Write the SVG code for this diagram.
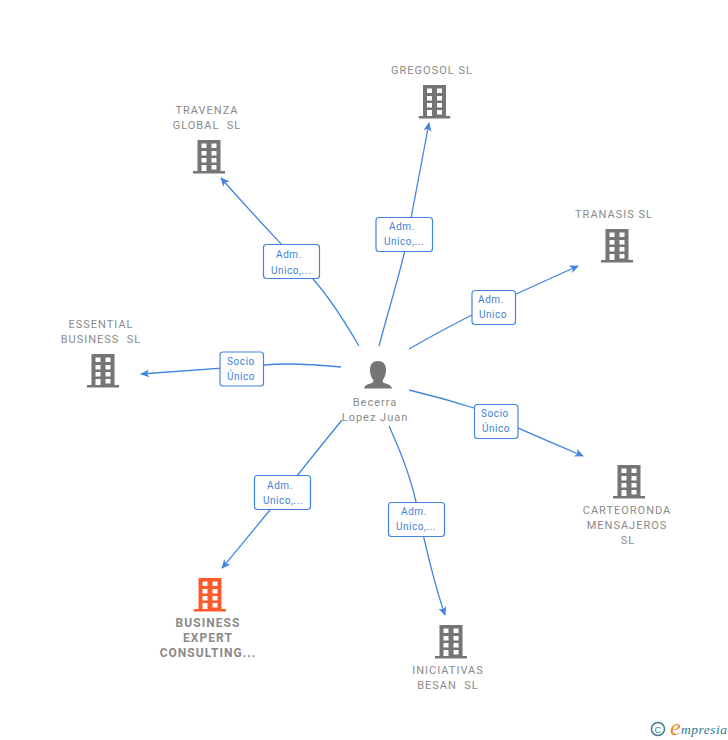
<svg xmlns="http://www.w3.org/2000/svg" width="728" height="740" viewBox="0 0 728 740">
<style>
.e{fill:none;stroke:#4285e0;stroke-width:1.3;marker-end:url(#a)}
.b{fill:#fff;stroke:#4285e0;stroke-width:1.2}
.l{font:10px Roboto,"Liberation Sans",sans-serif;fill:#3f7fd8;text-anchor:middle;letter-spacing:.55px}
.n{font:11px Roboto,"Liberation Sans",sans-serif;fill:#8a8a8a;text-anchor:middle;letter-spacing:1px;white-space:pre}
.f{font-weight:700;font-size:12px;letter-spacing:1.05px}
.g{fill:#757575}
</style>
<defs>
<marker id="a" viewBox="0 0 10 10" refX="9" refY="5" markerWidth="9" markerHeight="9" markerUnits="userSpaceOnUse" orient="auto"><path d="M0 .5L10 5L0 9.500L2.500 5Z" fill="#4285e0"/></marker>
<symbol id="bld" width="32" height="34" viewBox="0 0 32 34"><path fill-rule="evenodd" d="M4.500 0H27.500V31H32V33.500H0V31H4.500ZM8.500 3.500V8H13.500V3.500ZM18.500 3.500V8H23.500V3.500ZM8.500 11V15.500H13.500V11ZM18.500 11V15.500H23.500V11ZM8.500 18V22.500H13.500V18ZM18.500 18V22.500H23.500V18ZM8.500 25V31H13.500V25ZM18.500 25V29.500H23.500V25Z"/></symbol>
</defs>
<g id="connectors">
<path class="e" d="M359 346C345 322 330 298 313 279C295 258 255 217 221 178"/>
<path class="e" d="M379 346C388 312 398 280 405 250C412 215 420 170 429 123"/>
<path class="e" d="M409 349C430 337 450 326 472 315C505 299 540 283 578 266"/>
<path class="e" d="M341 367C310 364 285 363 264 365C225 368 185 371 141 374"/>
<path class="e" d="M409 390C430 395 452 401 474 408C510 425 545 440 583 456"/>
<path class="e" d="M342 420C320 447 295 478 270 510C255 528 240 547 222 568"/>
<path class="e" d="M389 426C400 450 410 475 416 502C425 545 433 580 445 615"/>
</g>
<g id="label-travenza"><rect class="b" x="263.500" y="244.500" width="56" height="34" rx="3"/><text class="l" x="289" y="258">Adm.</text><text class="l" x="291" y="274">Unico,...</text></g>
<g id="label-gregosol"><rect class="b" x="376" y="217.500" width="56.500" height="34" rx="3"/><text class="l" x="402" y="230">Adm.</text><text class="l" x="404" y="245">Unico,...</text></g>
<g id="label-tranasis"><rect class="b" x="472" y="290.500" width="43.500" height="34" rx="3"/><text class="l" x="491" y="303">Adm.</text><text class="l" x="493" y="318">Unico</text></g>
<g id="label-essential"><rect class="b" x="220" y="352" width="43.500" height="34" rx="3"/><text class="l" x="241" y="365">Socio</text><text class="l" x="241" y="380">Único</text></g>
<g id="label-carteoronda"><rect class="b" x="474.500" y="404.500" width="43.500" height="34" rx="3"/><text class="l" x="495" y="417">Socio</text><text class="l" x="496" y="432">Único</text></g>
<g id="label-business"><rect class="b" x="254.500" y="475.500" width="56" height="34" rx="3"/><text class="l" x="280" y="489">Adm.</text><text class="l" x="283" y="504">Unico,...</text></g>
<g id="label-iniciativas"><rect class="b" x="388.500" y="502.500" width="56" height="34" rx="3"/><text class="l" x="414" y="515">Adm.</text><text class="l" x="416" y="530">Unico,...</text></g>
<g id="node-person">
<path class="g" d="M378 361C372.500 361 369.500 365 370 371C370.300 375 371.500 378 373.500 380.500C373.500 382.500 372 383 369 384C366 385 364.500 386 364 388.500H392C391.500 386 390 385 387 384C384 383 382.500 382.500 382.500 380.500C384.500 378 385.700 375 386 371C386.500 365 383.500 361 378 361Z"/>
<text class="n" x="375" y="406">Becerra</text><text class="n" x="375" y="421">Lopez Juan</text>
</g>
<g id="node-travenza"><use href="#bld" x="193" y="140" class="g"/><text class="n" x="207" y="114">TRAVENZA</text><text class="n" x="207" y="129">GLOBAL  SL</text></g>
<g id="node-gregosol"><use href="#bld" x="418.500" y="85" class="g"/><text class="n" x="432" y="74">GREGOSOL SL</text></g>
<g id="node-tranasis"><use href="#bld" x="601" y="229" class="g"/><text class="n" x="614" y="218">TRANASIS SL</text></g>
<g id="node-essential"><use href="#bld" x="87" y="354" class="g"/><text class="n" x="101" y="328">ESSENTIAL</text><text class="n" x="101" y="343">BUSINESS  SL</text></g>
<g id="node-carteoronda"><use href="#bld" x="613" y="465" class="g"/><text class="n" x="627" y="514">CARTEORONDA</text><text class="n" x="627" y="529">MENSAJEROS</text><text class="n" x="628" y="544">SL</text></g>
<g id="node-business"><use href="#bld" x="194" y="578" fill="#ff5a2b"/><text class="n f" x="208" y="627">BUSINESS</text><text class="n f" x="208" y="642">EXPERT</text><text class="n f" x="208" y="657">CONSULTING...</text></g>
<g id="node-iniciativas"><use href="#bld" x="435" y="625" class="g"/><text class="n" x="448" y="674">INICIATIVAS</text><text class="n" x="448" y="689">BESAN  SL</text></g>
<g id="credit"><circle cx="658" cy="729" r="6.500" fill="none" stroke="#3f7f96" stroke-width="1.500"/><text x="658" y="732.500" font-family="Liberation Sans,sans-serif" font-size="9.500" fill="#3f7f96" text-anchor="middle">C</text><text x="670" y="735" font-family="Liberation Serif,serif" font-style="italic" font-size="24" fill="#f08a1d">e</text><text x="681" y="734" font-family="Liberation Serif,serif" font-style="italic" font-size="13.500" fill="#2f7d96" letter-spacing=".5">mpresia</text></g>
</svg>
